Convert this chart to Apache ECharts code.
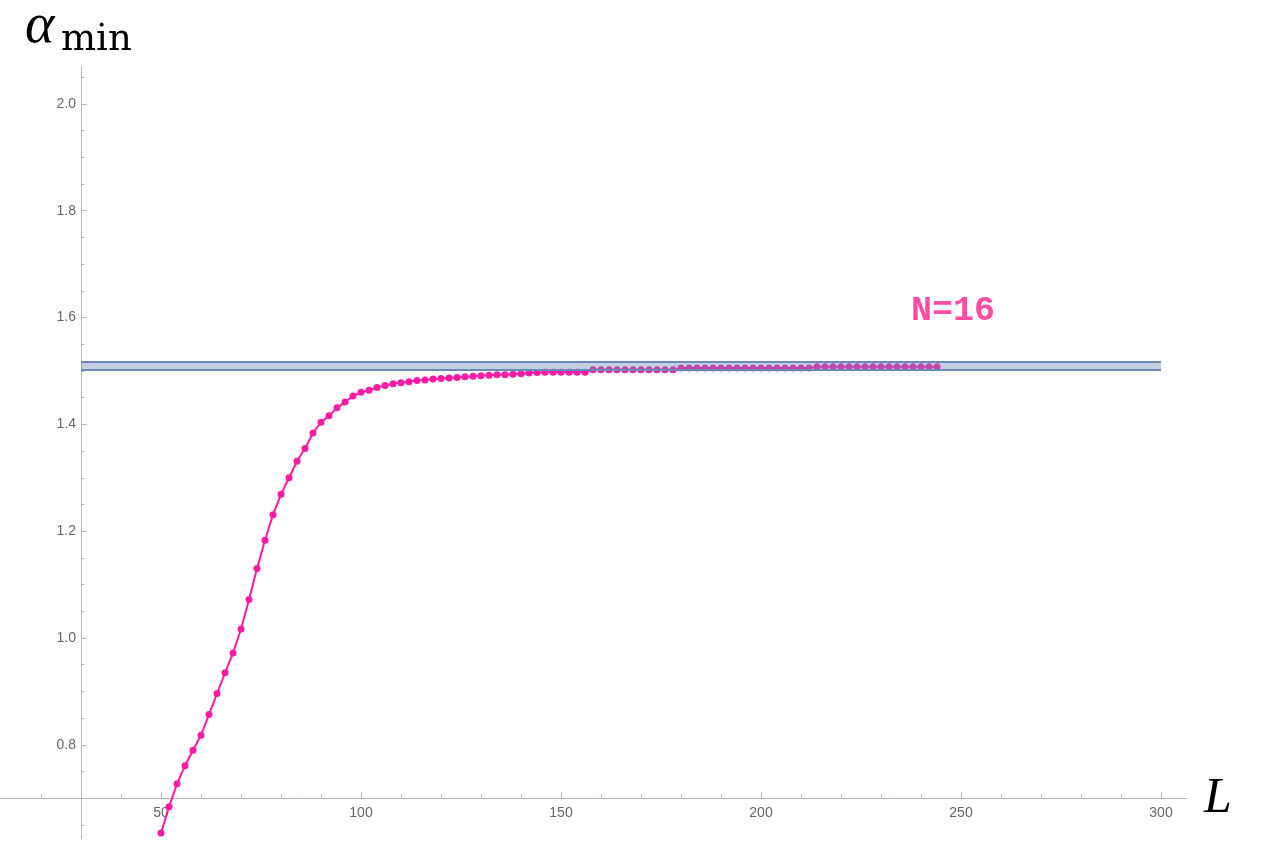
<!DOCTYPE html>
<html><head><meta charset="utf-8">
<script src="https://cdn.jsdelivr.net/npm/echarts@6/dist/echarts.min.js"></script>
<style>html,body{margin:0;padding:0;background:#fff}#c{width:1272px;height:856px}</style>
</head><body><div id="c"></div>
<script>
// ---- data ----
const Ls = [50,52,54,56,58,60,62,64,66,68,70,72,74,76,78,80,82,84,86,88,90,92,94,96,98,100,102,104,106,108,
  110,112,114,116,118,120,122,124,126,128,130,132,134,136,138,140,142,144,146,148,150,152,154,156,
  158,160,162,164,166,168,170,172,174,176,178,
  180,182,184,186,188,190,192,194,196,198,200,202,204,206,208,210,212,
  214,216,218,220,222,224,226,228,230,232,234,236,238,240,242,244];
const alphaMin = [0.635,0.684,0.727,0.761,0.790,0.818,0.857,0.896,0.935,0.972,
  1.017,1.072,1.130,1.183,1.231,1.269,1.300,1.331,1.355,1.384,
  1.404,1.416,1.431,1.442,1.453,1.460,1.464,1.469,1.473,1.476,
  1.478,1.480,1.482,1.483,1.485,1.486,1.487,1.488,1.489,1.490,1.491,1.492,1.493,1.493,1.494,1.495,1.496,1.497,1.4975,1.4975,1.4975,1.4975,1.4975,1.4975,
  1.5025,1.5025,1.5025,1.5025,1.5025,1.5025,1.5025,1.5025,1.5025,1.5025,1.5025,
  1.5055,1.5055,1.5055,1.5055,1.5055,1.5055,1.5055,1.5055,1.5055,1.5055,1.5055,1.5055,1.5055,1.5055,1.5055,1.5055,1.5055,
  1.508,1.508,1.508,1.508,1.508,1.508,1.508,1.508,1.508,1.508,1.508,1.508,1.508,1.508,1.508,1.508];
const bandAlpha = [1.502, 1.517];
const bandL = [30, 300];
const xMajorTicks = [50,100,150,200,250,300];
const xMinorTicks = [20,30,40,60,70,80,90,110,120,130,140,160,170,180,190,210,220,230,240,260,270,280,290];
const yMajorTicks = [0.8,1.0,1.2,1.4,1.6,1.8,2.0];
const yMinorTicks = [0.65,0.7,0.75,0.85,0.9,0.95,1.05,1.1,1.15,1.25,1.3,1.35,1.45,1.5,1.55,1.65,1.7,1.75,1.85,1.9,1.95,2.05];
const curveLabel = 'N=16';
const xTitle = 'L';
const yTitleMain = 'α';
const yTitleSub = 'min';

// ---- chart ----
const X_MIN = 9.75, X_MAX = 306.5, Y_MIN = 0.6245, Y_MAX = 2.071;
const axisColor = '#b8b8b8';
const labelColor = '#666666';
const pink = '#ff1aa5';

const chart = echarts.init(document.getElementById('c'), null, {renderer: 'canvas'});

function xAxisDef(ticks, len, withLine, withLabels) {
  return {
    type: 'value', min: X_MIN, max: X_MAX, position: 'bottom', offset: -40.3,
    axisLine: {show: withLine, onZero: false, lineStyle: {color: axisColor, width: 1}},
    axisTick: {show: true, inside: true, length: len, customValues: ticks, lineStyle: {color: axisColor, width: 1}},
    axisLabel: withLabels ? {show: true, customValues: ticks, color: labelColor, fontSize: 14,
      fontFamily: 'Liberation Sans', margin: 8, formatter: v => String(Math.round(v))} : {show: false},
    splitLine: {show: false}
  };
}
function yAxisDef(ticks, len, withLine, withLabels) {
  return {
    type: 'value', min: Y_MIN, max: Y_MAX, position: 'left', offset: -81,
    axisLine: {show: withLine, onZero: false, lineStyle: {color: axisColor, width: 1}},
    axisTick: {show: true, inside: true, length: len, customValues: ticks, lineStyle: {color: axisColor, width: 1}},
    axisLabel: withLabels ? {show: true, customValues: ticks, color: labelColor, fontSize: 14,
      fontFamily: 'Liberation Sans', margin: 5, formatter: v => v.toFixed(1)} : {show: false},
    splitLine: {show: false}
  };
}

const option = {
  animation: false,
  backgroundColor: '#ffffff',
  grid: {left: 0, top: 66, width: 1187, height: 772.6, containLabel: false, outerBoundsMode: 'none'},
  xAxis: [xAxisDef(xMajorTicks, 6, true, true), xAxisDef(xMinorTicks, 3.5, false, false)],
  yAxis: [yAxisDef(yMajorTicks, 6, true, true), yAxisDef(yMinorTicks, 3.5, false, false)],
  series: [
    {
      type: 'line', xAxisIndex: 0, yAxisIndex: 0, z: 3, clip: false,
      data: Ls.map((l, i) => [l, alphaMin[i]]),
      symbol: 'circle', symbolSize: 7, showSymbol: true, showAllSymbol: true,
      lineStyle: {color: pink, width: 2},
      itemStyle: {color: pink}
    },
    {
      type: 'line', xAxisIndex: 0, yAxisIndex: 0, z: 6, silent: true,
      data: [[bandL[0], bandAlpha[0]], [bandL[1], bandAlpha[0]]],
      showSymbol: false, symbol: 'none',
      lineStyle: {color: '#6b89b6', width: 2}
    },
    {
      type: 'line', xAxisIndex: 0, yAxisIndex: 0, z: 6, silent: true,
      data: [[bandL[0], bandAlpha[1]], [bandL[1], bandAlpha[1]]],
      showSymbol: false, symbol: 'none',
      lineStyle: {color: '#6b89b6', width: 2},
      markArea: {
        silent: true, z: 5,
        itemStyle: {color: 'rgba(106,138,184,0.40)', borderWidth: 0},
        data: [[{coord: [bandL[0], bandAlpha[0]]}, {coord: [bandL[1], bandAlpha[1]]}]]
      }
    }
  ],
  graphic: [
    {type: 'text', x: 25, y: 27, z: 10, style: {text: yTitleMain, font: 'italic 56px "Liberation Serif"', fill: '#000', align: 'left', verticalAlign: 'middle'}},
    {type: 'text', x: 61, y: 40, z: 10, style: {text: yTitleSub, font: '37px "DejaVu Serif"', fill: '#000', align: 'left', verticalAlign: 'middle'}},
    {type: 'text', x: 1204, y: 799, z: 10, style: {text: xTitle, font: 'italic 50px "Liberation Serif"', fill: '#000', align: 'left', verticalAlign: 'middle'}},
    {type: 'text', x: 953, y: 311.5, z: 10, style: {text: curveLabel, font: 'bold 35px "Liberation Mono"', fill: '#ff4da6', align: 'center', verticalAlign: 'middle'}}
  ]
};
chart.setOption(option);
</script>
</body></html>
